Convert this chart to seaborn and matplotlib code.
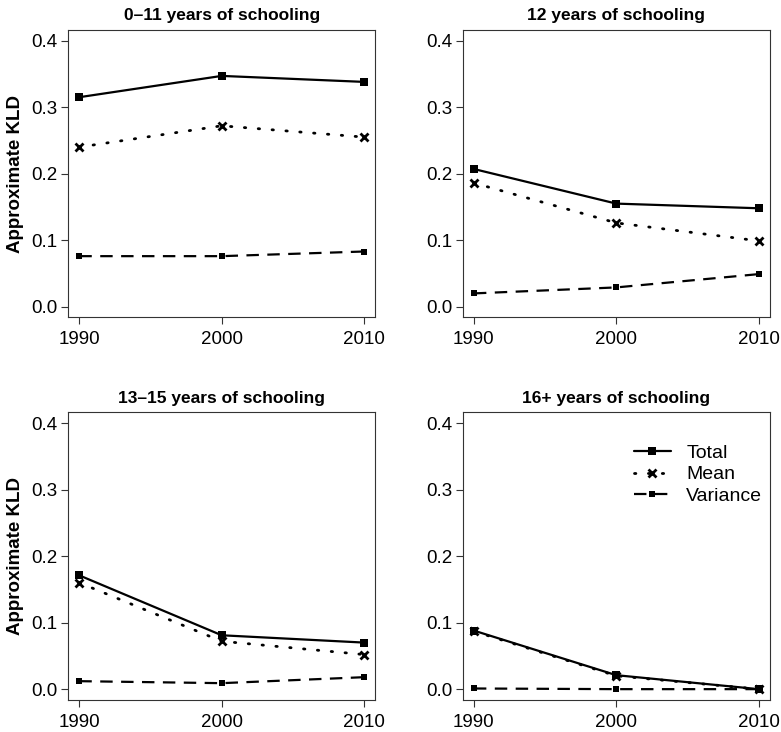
import matplotlib
matplotlib.use("Agg")
import matplotlib.pyplot as plt
import pandas as pd
import seaborn as sns

# values
years = [1990, 2000, 2010]
panel_titles = ["0\u201311 years of schooling", "12 years of schooling",
                "13\u201315 years of schooling", "16+ years of schooling"]
total_vals = [[0.315, 0.347, 0.338],
              [0.207, 0.155, 0.148],
              [0.171, 0.081, 0.070],
              [0.088, 0.021, 0.000]]
mean_vals = [[0.240, 0.272, 0.255],
             [0.186, 0.126, 0.099],
             [0.160, 0.072, 0.052],
             [0.087, 0.020, 0.000]]
var_vals = [[0.076, 0.076, 0.083],
            [0.020, 0.029, 0.049],
            [0.012, 0.009, 0.018],
            [0.001, 0.000, 0.000]]
y_ticks = [0.0, 0.1, 0.2, 0.3, 0.4]

sns.set_style("ticks")
plt.rcParams["font.family"] = ["Liberation Sans", "DejaVu Sans"]
plt.rcParams["axes.linewidth"] = 0.8
plt.rcParams["text.color"] = "black"
plt.rcParams["axes.labelcolor"] = "black"
plt.rcParams["xtick.color"] = "black"
plt.rcParams["ytick.color"] = "black"

fig, axes = plt.subplots(2, 2, figsize=(7.81, 7.32), dpi=100)
fig.subplots_adjust(left=0.087, right=0.986, top=0.959, bottom=0.044,
                    wspace=0.283, hspace=0.331)

for i, ax in enumerate(axes.flat):
    df = pd.DataFrame({"year": years, "Total": total_vals[i],
                       "Mean": mean_vals[i], "Variance": var_vals[i]})
    sns.lineplot(data=df, x="year", y="Total", ax=ax, color="black", lw=1.6,
                 marker="s", markersize=6, markeredgewidth=0,
                 markeredgecolor="black", label="Total")
    sns.lineplot(data=df, x="year", y="Mean", ax=ax, color="black", lw=2.0,
                 dashes=(0.5, 4.5), dash_capstyle="round",
                 marker="x", markersize=6, markeredgewidth=2.0,
                 markeredgecolor="black", label="Mean")
    sns.lineplot(data=df, x="year", y="Variance", ax=ax, color="black", lw=1.6,
                 dashes=(5.6, 3.8), marker="s", markersize=4.5,
                 markeredgewidth=0, markeredgecolor="black", label="Variance")

    ax.set_xlim(1989.2, 2010.8)
    ax.set_ylim(-0.016, 0.416)
    ax.set_xticks(years)
    ax.set_yticks(y_ticks)
    ax.set_yticklabels([f"{t:.1f}" for t in y_ticks])
    ax.tick_params(labelsize=13.5, length=5, width=0.8, color="#333333",
                   labelcolor="black")
    ax.tick_params(axis="x", pad=5)
    ax.tick_params(axis="y", pad=2.5)
    for sp in ax.spines.values():
        sp.set_visible(True)
        sp.set_color("#333333")
    ax.set_title(panel_titles[i], fontsize=12.5, fontweight="bold", pad=7,
                 color="black")
    ax.set_xlabel("")
    if i % 2 == 0:
        ax.set_ylabel("Approximate KLD", fontsize=13.5, fontweight="bold", labelpad=5)
    else:
        ax.set_ylabel("")
    if i == 3:
        ax.legend(loc="upper left", bbox_to_anchor=(0.5, 0.95), frameon=False,
                  fontsize=14, handlelength=1.9, handletextpad=0.8,
                  labelspacing=0.2, numpoints=1)
    else:
        ax.get_legend().remove()

fig.savefig("out.png", dpi=100)
